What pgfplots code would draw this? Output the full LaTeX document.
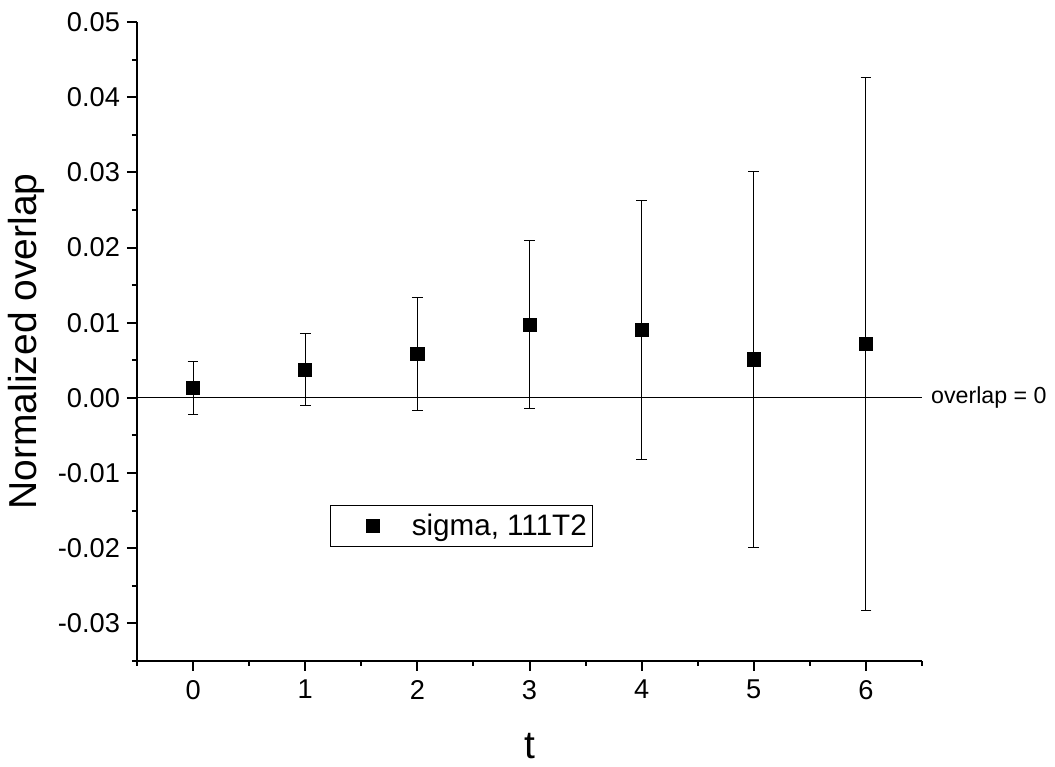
\documentclass[border=0pt]{standalone}
\usepackage{fontspec}
\setmainfont{Liberation Sans}
\usepackage{pgfplots}
\pgfplotsset{compat=1.18}

\begin{document}
\begin{tikzpicture}
\begin{axis}[
    scale only axis,
    width=392.5pt, height=319.5pt,
    xmin=-0.5, xmax=6.5,
    ymin=-0.035, ymax=0.05,
    axis x line*=bottom,
    axis y line*=left,
    axis line style={line width=1pt},
    tick align=outside,
    major tick length=5pt,
    minor tick length=2.5pt,
    tick style={line width=1pt, black},
    xtick={0,1,...,6},
    minor xtick={-0.5,0.5,...,6.5},
    ytick={-0.03,-0.02,...,0.05},
    minor ytick={-0.035,-0.025,...,0.045},
    scaled y ticks=false,
    yticklabel style={/pgf/number format/.cd, fixed, fixed zerofill, precision=2, assume math mode=true},
    xticklabel style={/pgf/number format/assume math mode=true, yshift=-1pt},
    ticklabel style={font=\fontsize{13.6}{16}\selectfont},
    xlabel={t},
    ylabel={Normalized overlap},
    label style={font=\fontsize{19.5}{22}\selectfont},
    xlabel style={yshift=-10pt},
    legend style={at={(0.246,0.244)}, anchor=north west,
        font=\fontsize{14.8}{17}\selectfont, draw=black, line width=0.5pt,
        inner xsep=1pt, inner ysep=2pt},
    legend cell align=left,
    clip=false,
]
% zero reference line
\addplot[black, line width=0.5pt, forget plot] coordinates {(-0.5,0) (6.5,0)}
    node[pos=1, right, font=\fontsize{11.6}{14}\selectfont, xshift=1pt] {overlap = 0};
% data with errors
\addplot[only marks, mark=square*, mark size=3.3pt, black,
    legend image code/.code={\path[draw=none, fill=none] (0pt,0pt) -- (1pt,0pt);
        \draw[mark=square*, mark size=3.3pt, black, only marks] plot coordinates {(20pt,0pt)};},
    error bars/.cd, y dir=both, y explicit,
    error bar style={line width=0.5pt},
    error mark options={rotate=90, mark size=2.7pt, line width=0.5pt}]
coordinates {
    (0, 0.00133) +- (0, 0.0035)
    (1, 0.00372) +- (0, 0.0048)
    (2, 0.00585) +- (0, 0.0075)
    (3, 0.00975) +- (0, 0.0112)
    (4, 0.00904) +- (0, 0.0172)
    (5, 0.00513) +- (0, 0.0250)
    (6, 0.00718) +- (0, 0.0354)
};
\addlegendentry{\hspace{14.3pt}sigma, 111T2}
\end{axis}
\path (current axis.south west) ++(-68.5pt,-53pt);
\path (current axis.north east) ++(66.5pt,11pt);
\end{tikzpicture}
\end{document}
